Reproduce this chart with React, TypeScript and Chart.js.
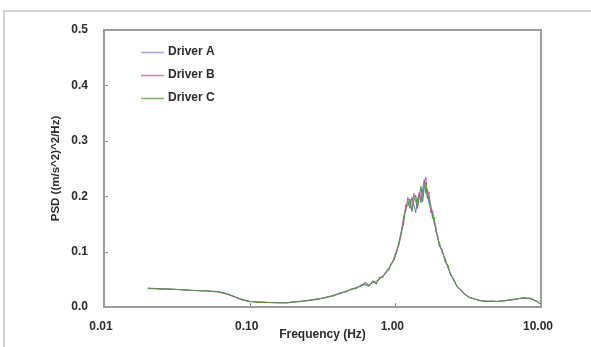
import React, { useEffect, useRef } from "react";
import { Chart, registerables } from "chart.js";

Chart.register(...registerables);

const freqHz = [
  0.02, 0.025, 0.03, 0.035, 0.04, 0.05, 0.06, 0.07, 0.08, 0.09,
  0.1, 0.12, 0.14, 0.16, 0.18, 0.2, 0.23, 0.26, 0.3, 0.34,
  0.38, 0.42, 0.46, 0.5, 0.54, 0.58, 0.62, 0.66, 0.7, 0.74,
  0.78, 0.82, 0.86, 0.9, 0.94, 0.98, 1.02, 1.06, 1.1, 1.14,
  1.18, 1.22, 1.26, 1.3, 1.34, 1.38, 1.42, 1.46, 1.5, 1.54,
  1.58, 1.62, 1.66, 1.7, 1.75, 1.8, 1.85, 1.9, 1.95, 2.0,
  2.1, 2.2, 2.3, 2.4, 2.5, 2.65, 2.8, 3.0, 3.2, 3.5,
  3.8, 4.2, 4.6, 5.0, 5.5, 6.0, 6.5, 7.0, 7.5, 8.0,
  8.5, 9.0, 9.5, 10.0,
];

const driverA = [
  0.034, 0.033, 0.032, 0.031, 0.030, 0.029, 0.028, 0.024, 0.018, 0.013,
  0.010, 0.009, 0.008, 0.008, 0.008, 0.009, 0.010, 0.012, 0.015, 0.018,
  0.021, 0.025, 0.028, 0.032, 0.034, 0.038, 0.042, 0.039, 0.046, 0.043,
  0.052, 0.055, 0.062, 0.068, 0.078, 0.086, 0.098, 0.115, 0.138, 0.158,
  0.180, 0.190, 0.178, 0.198, 0.185, 0.170, 0.195, 0.205, 0.188, 0.212,
  0.230, 0.205, 0.213, 0.188, 0.178, 0.168, 0.150, 0.145, 0.122, 0.118,
  0.097, 0.088, 0.070, 0.060, 0.049, 0.038, 0.030, 0.023, 0.018, 0.014,
  0.012, 0.010, 0.010, 0.010, 0.011, 0.012, 0.014, 0.015, 0.016, 0.016,
  0.015, 0.013, 0.009, 0.004,
];

const driverB = [
  0.033, 0.033, 0.032, 0.031, 0.030, 0.029, 0.027, 0.023, 0.017, 0.012,
  0.010, 0.009, 0.008, 0.007, 0.008, 0.009, 0.010, 0.013, 0.015, 0.017,
  0.022, 0.024, 0.029, 0.031, 0.036, 0.037, 0.045, 0.040, 0.044, 0.047,
  0.050, 0.057, 0.060, 0.071, 0.076, 0.090, 0.102, 0.112, 0.132, 0.165,
  0.172, 0.198, 0.185, 0.176, 0.205, 0.190, 0.182, 0.208, 0.195, 0.200,
  0.222, 0.235, 0.198, 0.208, 0.170, 0.175, 0.155, 0.140, 0.128, 0.112,
  0.100, 0.084, 0.073, 0.058, 0.051, 0.037, 0.031, 0.022, 0.018, 0.014,
  0.012, 0.011, 0.010, 0.010, 0.011, 0.012, 0.013, 0.015, 0.016, 0.015,
  0.015, 0.012, 0.010, 0.005,
];

const driverC = [
  0.034, 0.032, 0.032, 0.031, 0.030, 0.029, 0.028, 0.024, 0.018, 0.013,
  0.010, 0.008, 0.008, 0.008, 0.007, 0.009, 0.011, 0.012, 0.014, 0.018,
  0.020, 0.026, 0.027, 0.033, 0.033, 0.040, 0.040, 0.037, 0.048, 0.041,
  0.054, 0.053, 0.064, 0.066, 0.080, 0.084, 0.100, 0.118, 0.135, 0.150,
  0.185, 0.182, 0.195, 0.172, 0.192, 0.202, 0.178, 0.198, 0.218, 0.190,
  0.215, 0.225, 0.195, 0.200, 0.185, 0.160, 0.162, 0.135, 0.130, 0.110,
  0.103, 0.080, 0.076, 0.056, 0.052, 0.036, 0.032, 0.024, 0.017, 0.015,
  0.011, 0.010, 0.011, 0.010, 0.011, 0.013, 0.014, 0.015, 0.017, 0.016,
  0.016, 0.012, 0.009, 0.004,
];

const seriesNames = ["Driver A", "Driver B", "Driver C"];
const seriesColors = ["#6a68c0", "#c45ea4", "#479a36"];
const legendColors = ["#a2a2dc", "#d27cb8", "#7fb45e"];
const xTickValues = [0.01, 0.1, 1, 10];
const yTickValues = [0, 0.1, 0.2, 0.3, 0.4, 0.5];
const xTitle = "Frequency (Hz)";
const yTitle = "PSD ((m/s^2)^2/Hz)";

const FONT = "'Liberation Sans', Arial, sans-serif";
const TEXT_COLOR = "#2b2b2b";

const boxPlugin = {
  id: "boxAndLegend",
  afterDatasetsDraw(chart: any) {
    const { ctx, chartArea } = chart;
    const { left, right, top, bottom } = chartArea;
    ctx.save();
    ctx.strokeStyle = "#9c9c9c";
    ctx.lineWidth = 2;
    ctx.strokeRect(left, top, right - left, bottom - top);
    ctx.lineWidth = 1;
    ctx.strokeStyle = "#8a8a8a";
    const ys = chart.scales.y;
    yTickValues.slice(1, -1).forEach((v) => {
      const py = Math.round(ys.getPixelForValue(v)) + 0.5;
      ctx.beginPath();
      ctx.moveTo(left + 1, py);
      ctx.lineTo(left + 4, py);
      ctx.stroke();
    });
    const xs = chart.scales.x;
    xTickValues.slice(1, -1).forEach((v) => {
      const px = Math.round(xs.getPixelForValue(v)) + 0.5;
      ctx.beginPath();
      ctx.moveTo(px, bottom - 1);
      ctx.lineTo(px, bottom - 4);
      ctx.stroke();
    });
    ctx.font = `bold 12px ${FONT}`;
    ctx.textBaseline = "middle";
    ctx.textAlign = "left";
    chart.data.datasets.forEach((ds: any, i: number) => {
      const cy = top + 22 + i * 23;
      ctx.strokeStyle = legendColors[i];
      ctx.lineWidth = 1.5;
      ctx.beginPath();
      ctx.moveTo(left + 37, cy + 0.5);
      ctx.lineTo(left + 60, cy + 0.5);
      ctx.stroke();
      ctx.fillStyle = TEXT_COLOR;
      ctx.fillText(ds.label, left + 64, cy);
    });
    ctx.restore();
  },
};

export default function App() {
  const canvasRef = useRef<HTMLCanvasElement | null>(null);

  useEffect(() => {
    document.body.style.margin = "0";
    const canvas = canvasRef.current;
    if (!canvas) return;
    const seriesValues = [driverA, driverB, driverC];
    const datasets = seriesNames.map((name, i) => ({
      label: name,
      data: freqHz.map((f, j) => ({ x: f, y: seriesValues[i][j] })),
      borderColor: seriesColors[i],
      backgroundColor: seriesColors[i],
      borderWidth: 1,
      pointRadius: 0,
      tension: 0,
      fill: false,
      order: seriesNames.length - 1 - i,
    }));

    const chart = new Chart(canvas, {
      type: "line",
      data: { datasets },
      plugins: [boxPlugin],
      options: {
        responsive: false,
        animation: false,
        maintainAspectRatio: false,
        layout: { padding: { top: 30, right: 50, left: 0, bottom: 0 } },
        plugins: {
          legend: { display: false },
          tooltip: { enabled: false },
        },
        scales: {
          x: {
            type: "logarithmic",
            min: 0.01,
            max: 10,
            grid: { display: false, drawTicks: false },
            border: { display: false },
            afterBuildTicks: (scale: any) => {
              scale.ticks = xTickValues.map((v) => ({ value: v }));
            },
            afterFit: (scale: any) => {
              scale.height = 40;
              scale.paddingLeft = 0;
              scale.paddingRight = 0;
            },
            ticks: {
              autoSkip: false,
              maxRotation: 0,
              padding: 12,
              labelOffset: -3,
              color: TEXT_COLOR,
              font: { family: FONT, size: 12, weight: "bold" },
              callback: (v: any) => Number(v).toFixed(2),
            },
            title: {
              display: true,
              text: xTitle,
              color: TEXT_COLOR,
              font: { family: FONT, size: 12, weight: "bold" },
              padding: { top: 0, bottom: 5 },
            },
          },
          y: {
            type: "linear",
            min: 0,
            max: 0.5,
            grid: { display: false, drawTicks: false },
            border: { display: false },
            afterBuildTicks: (scale: any) => {
              scale.ticks = yTickValues.map((v) => ({ value: v }));
            },
            afterFit: (scale: any) => {
              scale.width = 104;
              scale.paddingTop = 0;
              scale.paddingBottom = 0;
            },
            ticks: {
              padding: 16,
              color: TEXT_COLOR,
              font: { family: FONT, size: 12, weight: "bold" },
              callback: (v: any) => Number(v).toFixed(1),
            },
            title: {
              display: true,
              text: yTitle,
              color: TEXT_COLOR,
              font: { family: FONT, size: 11.5, weight: "bold" },
              padding: { top: 49, bottom: 0 },
            },
          },
        },
      },
    });
    return () => chart.destroy();
  }, []);

  return (
    <div style={{ position: "relative", width: 591, height: 347, background: "#fff" }}>
      <div
        style={{
          position: "absolute",
          left: 3,
          top: 10,
          right: 0,
          bottom: 0,
          borderTop: "2px solid #d0d0d0",
          borderLeft: "2px solid #d0d0d0",
          pointerEvents: "none",
        }}
      />
      <canvas
        ref={canvasRef}
        width={591}
        height={347}
        style={{ position: "absolute", left: 0, top: 0, width: 591, height: 347 }}
      />
    </div>
  );
}
